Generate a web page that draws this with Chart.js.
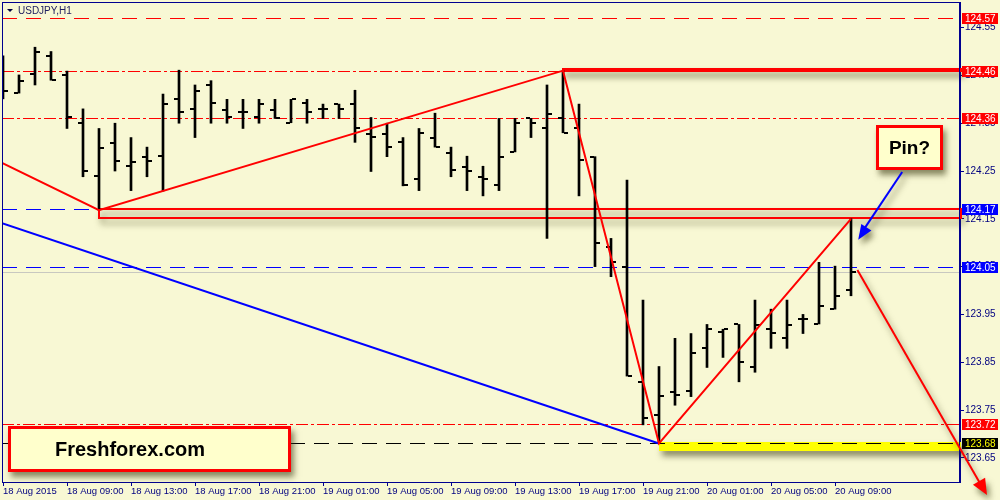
<!DOCTYPE html>
<html>
<head>
<meta charset="utf-8">
<title>USDJPY,H1</title>
<script src="https://cdn.jsdelivr.net/npm/chart.js@4.4.0/dist/chart.umd.min.js"></script>
<style>
  html, body { margin: 0; padding: 0; background: #f8f8d4; }
  #wrap { width: 1000px; height: 500px; position: relative; }
</style>
</head>
<body>
<div id="wrap"><canvas id="chart" width="1000" height="500"></canvas></div>
<script>
// Hourly bars, 18 Aug 05:00 -> 20 Aug 10:00 (index = hour number)
const opens  = [124.470, 124.413, 124.452, 124.491, 124.451, 124.350, 124.240, 124.309, 124.260, 124.280,
                124.282, 124.400, 124.380, 124.429, 124.378, 124.373, 124.362, 124.378, 124.351, 124.392,
                124.380, 124.390, 124.390, 124.327, 124.327, 124.310, 124.233, 124.320, 124.288, 124.259,
                124.238, 124.221, 124.290, 124.360, 124.341, 124.360, 124.339, 124.280, 124.090, 124.050,
                123.809, 123.740, 123.788, 123.790, 123.880, 123.913, 123.929, 123.841, 123.919, 123.901,
                123.940, 123.930, 123.961, 124.001];
const highs  = [124.491, 124.451, 124.509, 124.500, 124.459, 124.380, 124.339, 124.350, 124.320, 124.300,
                124.411, 124.461, 124.430, 124.439, 124.400, 124.400, 124.400, 124.400, 124.400, 124.400,
                124.390, 124.390, 124.419, 124.362, 124.350, 124.320, 124.339, 124.371, 124.300, 124.281,
                124.260, 124.360, 124.360, 124.360, 124.430, 124.460, 124.390, 124.280, 124.109, 124.231,
                123.980, 123.841, 123.900, 123.910, 123.929, 123.919, 123.929, 123.980, 123.961, 123.980,
                123.950, 124.059, 124.051, 124.150];
const lows   = [124.401, 124.413, 124.430, 124.440, 124.339, 124.238, 124.168, 124.250, 124.209, 124.238,
                124.208, 124.350, 124.320, 124.350, 124.350, 124.339, 124.350, 124.360, 124.351, 124.350,
                124.360, 124.360, 124.310, 124.249, 124.280, 124.219, 124.209, 124.300, 124.238, 124.209,
                124.198, 124.209, 124.290, 124.320, 124.109, 124.330, 124.198, 124.050, 124.029, 123.821,
                123.719, 123.680, 123.760, 123.778, 123.839, 123.860, 123.809, 123.829, 123.879, 123.879,
                123.910, 123.930, 123.961, 123.989];
const closes = [124.418, 124.439, 124.500, 124.440, 124.362, 124.251, 124.299, 124.272, 124.269, 124.272,
                124.390, 124.373, 124.418, 124.392, 124.362, 124.373, 124.390, 124.360, 124.400, 124.373,
                124.380, 124.380, 124.341, 124.322, 124.301, 124.221, 124.329, 124.300, 124.252, 124.251,
                124.233, 124.280, 124.350, 124.351, 124.370, 124.330, 124.273, 124.100, 124.060, 123.821,
                123.733, 123.779, 123.781, 123.870, 123.919, 123.919, 123.851, 123.928, 123.912, 123.928,
                123.940, 123.968, 123.988, 124.039];

// axis ticks
const xTickIndex  = [0, 4, 8, 12, 16, 20, 24, 28, 32, 36, 40, 44, 48, 52];
const xTickLabels = ['18 Aug 2015', '18 Aug 09:00', '18 Aug 13:00', '18 Aug 17:00', '18 Aug 21:00',
                     '19 Aug 01:00', '19 Aug 05:00', '19 Aug 09:00', '19 Aug 13:00', '19 Aug 17:00',
                     '19 Aug 21:00', '20 Aug 01:00', '20 Aug 05:00', '20 Aug 09:00'];
const yTicks = [123.65, 123.75, 123.85, 123.95, 124.05, 124.15, 124.25, 124.35, 124.45, 124.55];

// horizontal levels
const levelPrices = [124.57, 124.46, 124.36, 124.17, 124.05, 123.72, 123.68];
const levelColors = ['#ff0000', '#ff0000', '#ff0000', '#0000ff', '#0000ff', '#ff0000', '#000000'];
const levelStyles = ['dash', 'dashdot', 'dashdot', 'dash', 'dash', 'dashdot', 'dash'];
const levelTextColors = ['#ffffff', '#ffffff', '#ffffff', '#ffffff', '#ffffff', '#ffffff', '#ffff00'];

// trend lines (bar index, price)
const redZigX = [-0.0625, 6, 35, 41, 53];
const redZigY = [124.267, 124.168, 124.46, 123.68, 124.15];
const blueLineX = [-0.0625, 41];
const blueLineY = [124.141, 123.68];

// arrows [startIdx, startPrice, tipIdx, tipPrice]
const redArrow  = [53.4, 124.043, 61.5, 123.572];
const blueArrow = [56.2, 124.248, 53.45, 124.106];

// zones [fromIdx, toIdx, topPrice, bottomPrice]
const zones = [
  [35, 59.9, 124.4625, 124.4585],
  [6, 59.9, 124.170, 124.152],
  [41, 59.9, 123.683, 123.665]
];
const zoneFill = [null, null, '#ffff00'];

const xMin = -0.0625, xMax = 59.8125;
const yMin = 123.5994, yMax = 124.6036;
const FONT = "'Liberation Sans', Arial, sans-serif";
const NAVY = '#000090';

const dashOf = s => s === 'dash' ? [15, 9] : [12, 3, 3, 3];

const datasets = [{
  type: 'bar',
  data: highs.map((h, i) => ({ x: i, y: [lows[i], h] })),
  backgroundColor: '#000000',
  barThickness: 2,
  borderWidth: 0,
  borderSkipped: false,
  order: 1
}, {
  type: 'line',
  data: redZigX.map((x, i) => ({ x: x, y: redZigY[i] })),
  borderColor: '#ff0000',
  borderWidth: 2,
  pointRadius: 0,
  order: 0
}, {
  type: 'line',
  data: blueLineX.map((x, i) => ({ x: x, y: blueLineY[i] })),
  borderColor: '#0000ff',
  borderWidth: 2,
  pointRadius: 0,
  order: 0
}];

// open / close ticks of the bars
const ohlcTicks = {
  id: 'ohlcTicks',
  afterDatasetDraw(chart, args) {
    if (args.index !== 0) return;
    const { ctx, chartArea: a, scales: { x, y } } = chart;
    ctx.save();
    ctx.beginPath(); ctx.rect(a.left, a.top, a.width, a.height); ctx.clip();
    ctx.fillStyle = '#000000';
    opens.forEach((o, i) => {
      const px = x.getPixelForValue(i);
      const po = Math.round(y.getPixelForValue(o));
      const pc = Math.round(y.getPixelForValue(closes[i]));
      ctx.fillRect(px - 5, po - 1, 4, 2);
      ctx.fillRect(px + 1, pc - 1, 4, 2);
    });
    ctx.restore();
  }
};

// dashed horizontal line made of 1px rectangles
const dashedRow = (ctx, x0, x1, py, pattern, color) => {
  ctx.save();
  ctx.fillStyle = color;
  let xx = x0, k = 0;
  while (xx < x1) {
    const len = pattern[k % pattern.length];
    if (k % 2 === 0) ctx.fillRect(xx, py, Math.min(len, x1 - xx), 1);
    xx += len;
    k++;
  }
  ctx.restore();
};

const arrowHead = (ctx, x0, y0, x1, y1, len, half) => {
  const ang = Math.atan2(y1 - y0, x1 - x0);
  ctx.beginPath();
  ctx.moveTo(x1, y1);
  ctx.lineTo(x1 - len * Math.cos(ang) + half * Math.sin(ang), y1 - len * Math.sin(ang) - half * Math.cos(ang));
  ctx.lineTo(x1 - len * Math.cos(ang) - half * Math.sin(ang), y1 - len * Math.sin(ang) + half * Math.cos(ang));
  ctx.closePath();
  ctx.fill();
};

const shadow = (ctx) => {
  ctx.shadowColor = 'rgba(60,60,20,0.6)';
  ctx.shadowBlur = 6;
  ctx.shadowOffsetX = 3;
  ctx.shadowOffsetY = 5;
};

const textBox = (ctx, l, t, w, h, text, size, textLeft) => {
  ctx.save();
  shadow(ctx);
  ctx.fillStyle = '#ffffcc';
  ctx.fillRect(l, t, w, h);
  ctx.restore();
  ctx.save();
  ctx.strokeStyle = '#ff0000';
  ctx.lineWidth = 3;
  ctx.strokeRect(l + 1.5, t + 1.5, w - 3, h - 3);
  ctx.fillStyle = '#000000';
  ctx.font = 'bold ' + size + 'px ' + FONT;
  ctx.textBaseline = 'middle';
  if (textLeft != null) {
    ctx.textAlign = 'left';
    ctx.fillText(text, textLeft, t + h / 2 + 1);
  } else {
    ctx.textAlign = 'center';
    ctx.fillText(text, l + w / 2, t + h / 2 + 1);
  }
  ctx.restore();
};

const drawZone = (ctx, x, y, i) => {
  const z = zones[i];
  const l = Math.round(x.getPixelForValue(z[0]));
  const r = Math.round(x.getPixelForValue(z[1]));
  const t = Math.round(y.getPixelForValue(z[2]));
  const b = Math.round(y.getPixelForValue(z[3]));
  ctx.save();
  shadow(ctx);
  if (zoneFill[i]) {
    ctx.fillStyle = zoneFill[i];
    ctx.fillRect(l, t, r - l, b - t);
  } else {
    ctx.strokeStyle = '#ff0000';
    ctx.lineWidth = 2;
    ctx.strokeRect(l, t, r - l, Math.max(b - t, 1));
  }
  ctx.restore();
};

const decor = {
  id: 'decor',
  beforeDraw(chart) {
    const { ctx, width, height } = chart;
    ctx.save();
    ctx.fillStyle = '#f8f8d4';
    ctx.fillRect(0, 0, width, height);
    ctx.restore();
  },
  beforeDatasetsDraw(chart) {
    const { ctx, chartArea: a, scales: { x, y } } = chart;
    // filled zones first
    zones.forEach((z, i) => { if (zoneFill[i]) drawZone(ctx, x, y, i); });
    // bid line at the last close
    const bid = Math.round(y.getPixelForValue(closes[closes.length - 1]));
    dashedRow(ctx, a.left, a.right, bid, [a.width, 0], '#c8c8c0');
    // horizontal levels
    levelPrices.forEach((p, i) => {
      const py = Math.round(y.getPixelForValue(p));
      dashedRow(ctx, a.left, a.right, py, dashOf(levelStyles[i]), levelColors[i]);
    });
    // outlined zones on top of the levels
    zones.forEach((z, i) => { if (!zoneFill[i]) drawZone(ctx, x, y, i); });
  },
  afterDatasetsDraw(chart) {
    const { ctx, chartArea: a } = chart;
    ctx.save();
    ctx.strokeStyle = NAVY;
    ctx.lineWidth = 1;
    ctx.strokeRect(a.left + 0.5, a.top + 0.5, a.width - 1, a.height);
    ctx.restore();
  },
  afterDraw(chart) {
    const { ctx, chartArea: a, scales: { x, y } } = chart;

    // price labels on the right axis
    levelPrices.forEach((p, i) => {
      const py = Math.round(y.getPixelForValue(p));
      ctx.save();
      ctx.fillStyle = levelColors[i];
      ctx.fillRect(a.right + 2, py - 5, 36, 11);
      ctx.fillStyle = levelTextColors[i];
      ctx.font = '10px ' + FONT;
      ctx.textBaseline = 'middle';
      ctx.fillText(p.toFixed(2), a.right + 5, py + 1);
      ctx.restore();
    });

    // title
    ctx.save();
    ctx.fillStyle = '#000040';
    ctx.beginPath();
    ctx.moveTo(7, 9); ctx.lineTo(13, 9); ctx.lineTo(10, 12); ctx.closePath(); ctx.fill();
    ctx.font = '10px ' + FONT;
    ctx.fillStyle = '#202060';
    ctx.textBaseline = 'middle';
    ctx.fillText('USDJPY,H1', 18, 11);
    ctx.restore();

    // red arrow (down)
    ctx.save();
    shadow(ctx);
    ctx.strokeStyle = '#ff0000';
    ctx.fillStyle = '#ff0000';
    ctx.lineWidth = 2;
    const rx0 = x.getPixelForValue(redArrow[0]), ry0 = y.getPixelForValue(redArrow[1]);
    const rx1 = x.getPixelForValue(redArrow[2]), ry1 = y.getPixelForValue(redArrow[3]);
    ctx.beginPath(); ctx.moveTo(rx0, ry0); ctx.lineTo(rx1 - 6, ry1 - 10); ctx.stroke();
    arrowHead(ctx, rx0, ry0, rx1, ry1, 16, 7);
    ctx.restore();

    // text boxes
    textBox(ctx, 876, 125, 67, 45, 'Pin?', 19);
    textBox(ctx, 8, 426, 283, 46, 'Freshforex.com', 20, 55);

    // blue arrow to the pin bar
    ctx.save();
    shadow(ctx);
    ctx.strokeStyle = '#0000ff';
    ctx.fillStyle = '#0000ff';
    ctx.lineWidth = 2;
    const bx0 = x.getPixelForValue(blueArrow[0]), by0 = y.getPixelForValue(blueArrow[1]);
    const bx1 = x.getPixelForValue(blueArrow[2]), by1 = y.getPixelForValue(blueArrow[3]);
    ctx.beginPath(); ctx.moveTo(bx0, by0); ctx.lineTo(bx1 + 4, by1 - 8); ctx.stroke();
    arrowHead(ctx, bx0, by0, bx1, by1, 15, 6);
    ctx.restore();
  }
};

const noPad = s => { s.paddingTop = 0; s.paddingBottom = 0; s.paddingLeft = 0; s.paddingRight = 0; };

new Chart(document.getElementById('chart'), {
  data: { datasets: datasets },
  options: {
    responsive: false,
    animation: false,
    events: [],
    layout: { padding: { left: 2, top: 2, right: 0, bottom: 0 } },
    plugins: { legend: { display: false }, tooltip: { enabled: false } },
    scales: {
      x: {
        type: 'linear',
        offset: false,
        min: xMin,
        max: xMax,
        afterBuildTicks: s => { s.ticks = xTickIndex.map(v => ({ value: v })); },
        afterFit: s => { s.height = 18; noPad(s); },
        grid: { offset: false, drawOnChartArea: false, drawTicks: true, tickLength: 4, color: NAVY },
        border: { display: true, color: NAVY },
        ticks: {
          autoSkip: false,
          maxRotation: 0,
          align: 'start',
          padding: 0,
          color: '#000080',
          font: { family: FONT, size: 9.5 },
          callback: (v, i) => xTickLabels[i]
        }
      },
      y: {
        type: 'linear',
        position: 'right',
        min: yMin,
        max: yMax,
        afterBuildTicks: s => { s.ticks = yTicks.map(v => ({ value: v })); },
        afterFit: s => { s.width = 40; noPad(s); },
        grid: { drawOnChartArea: false, drawTicks: true, tickLength: 4, color: NAVY },
        border: { display: true, color: NAVY },
        ticks: {
          padding: 1,
          color: '#000080',
          font: { family: FONT, size: 10 },
          callback: v => v.toFixed(2)
        }
      }
    }
  },
  plugins: [ohlcTicks, decor]
});
</script>
</body>
</html>
